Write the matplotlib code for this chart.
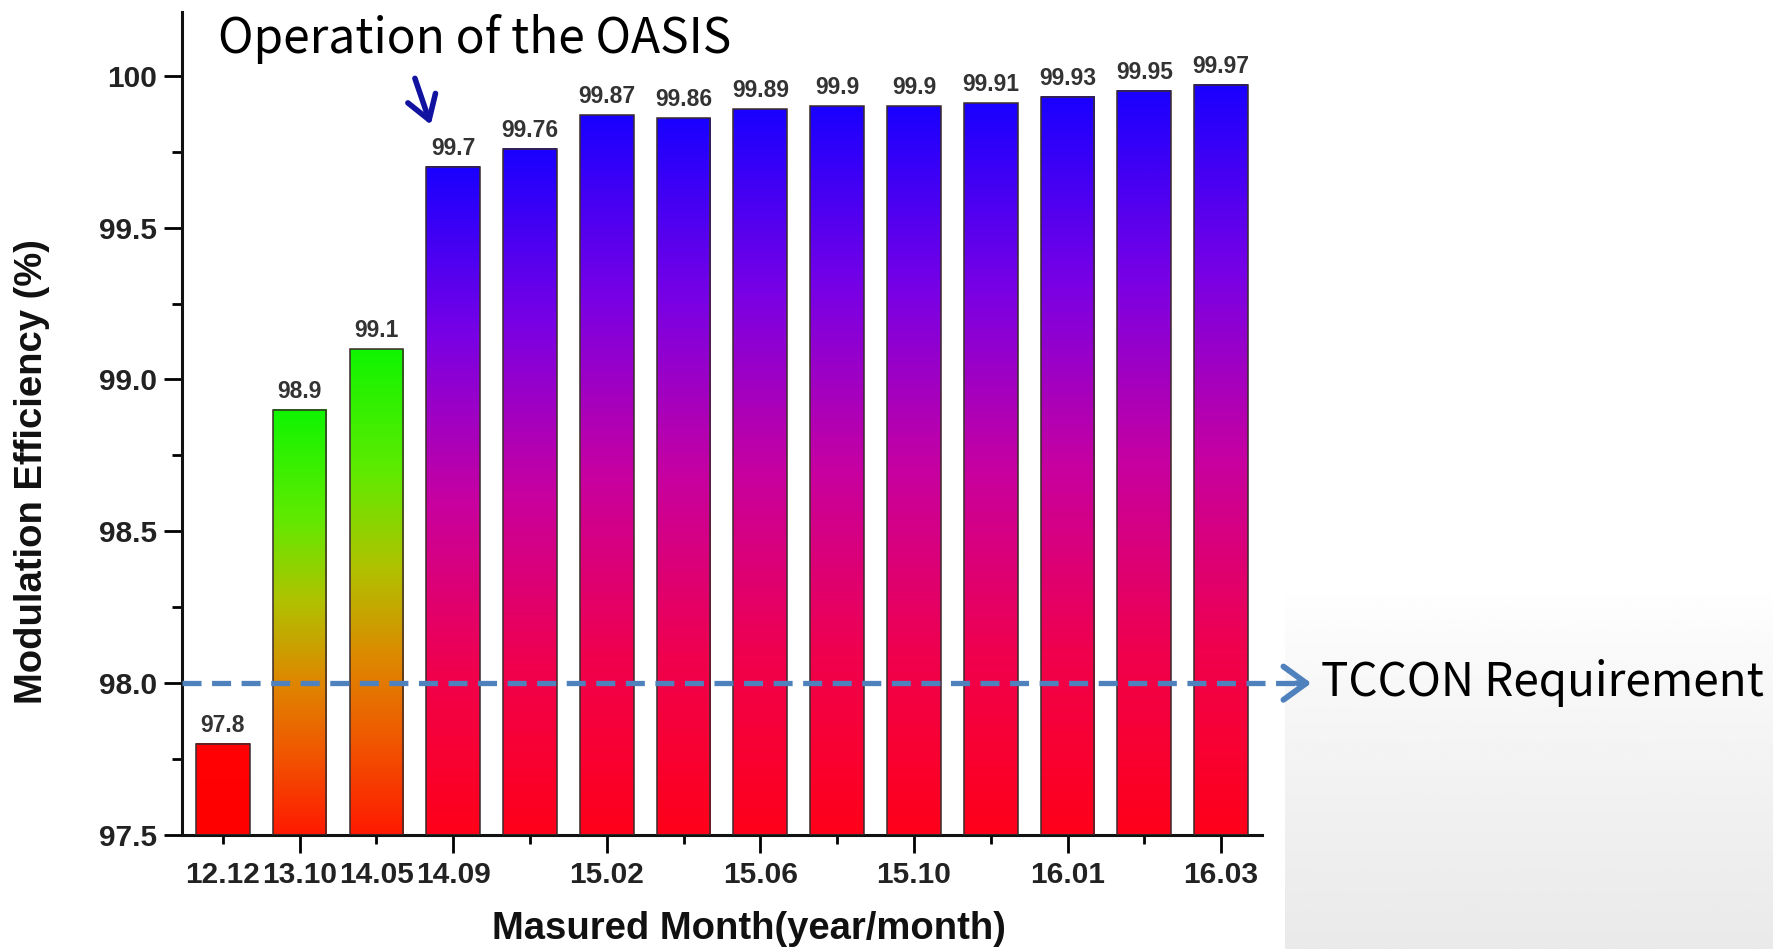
import numpy as np
import matplotlib
matplotlib.use("Agg")
import matplotlib.pyplot as plt
from matplotlib.colors import LinearSegmentedColormap

# Monthly modulation efficiency measurements
month_labels = ['12.12', '13.10', '14.05', '14.09', '', '15.02', '', '15.06',
                '', '15.10', '', '16.01', '', '16.03']
efficiency = [97.8, 98.9, 99.1, 99.7, 99.76, 99.87, 99.86, 99.89,
              99.9, 99.9, 99.91, 99.93, 99.95, 99.97]
tccon_requirement = 98.0
oasis_start = 3  # index of first month after OASIS went into operation

y_min, y_max = 97.5, 100.21
bar_w = 0.70

red_green = LinearSegmentedColormap.from_list("rg", [
    (0.00, (1.00, 0.10, 0.00)),
    (0.20, (0.94, 0.35, 0.00)),
    (0.36, (0.87, 0.53, 0.00)),
    (0.55, (0.69, 0.76, 0.00)),
    (0.75, (0.37, 0.92, 0.00)),
    (1.00, (0.06, 0.96, 0.00)),
])
red_blue = LinearSegmentedColormap.from_list("rb", [
    (0.00, (1.00, 0.00, 0.10)),
    (0.25, (0.94, 0.00, 0.31)),
    (0.50, (0.78, 0.00, 0.63)),
    (0.75, (0.47, 0.00, 0.90)),
    (1.00, (0.10, 0.00, 1.00)),
])
solid_red = LinearSegmentedColormap.from_list("r", [(1.0, 0.0, 0.0), (1.0, 0.0, 0.02)])


def bar_cmap(i, v):
    if v < tccon_requirement:
        return solid_red
    if i < oasis_start:
        return red_green
    return red_blue


fig = plt.figure(figsize=(17.73, 9.49), dpi=100)
fig.patch.set_facecolor("white")

# light grey slide background on the right-hand side
bg = fig.add_axes([1285 / 1773, 0, 1 - 1285 / 1773, 1], zorder=0)
rows = np.linspace(0, 1, 400)
shade = np.where(rows < 0.62, 1.0, 1.0 - 0.085 * ((rows - 0.62) / 0.38) ** 0.8)
bg.imshow(np.repeat(shade[:, None], 2, axis=1), cmap="gray", vmin=0, vmax=1,
          aspect="auto", extent=(0, 1, 0, 1), origin="upper")
bg.axis("off")

ax = fig.add_axes([0.1027, 0.1201, 0.6090, 0.8673], zorder=1)
ax.patch.set_alpha(0)

x = np.arange(len(efficiency))
for i, (xi, v) in enumerate(zip(x, efficiency)):
    grad = bar_cmap(i, v)(np.linspace(0, 1, 256))[:, None, :3]
    ax.imshow(grad, extent=(xi - bar_w / 2, xi + bar_w / 2, y_min, v),
              origin="lower", aspect="auto", interpolation="bilinear", zorder=2)
ax.bar(x, np.array(efficiency) - y_min, bottom=y_min, width=bar_w,
       facecolor="none", edgecolor="#3a2a2a", linewidth=1.1, zorder=3)

for xi, v in zip(x, efficiency):
    ax.annotate(f"{v:g}", (xi, v), xytext=(0, 5), textcoords="offset points",
                ha="center", va="bottom", fontsize=16.5, fontweight="bold",
                color="#333333", family="Liberation Sans")

ax.set_xlim(-0.53, 13.53)
ax.set_ylim(y_min, y_max)

# labelled months on odd positions get the long ticks
major = [i for i in x if i % 2 == 1]
minor = [i for i in x if i % 2 == 0]
ax.set_xticks(major)
ax.set_xticklabels([month_labels[i] for i in major])
ax.set_xticks(minor, minor=True)
ax.set_xticklabels([month_labels[i] for i in minor], minor=True)

yt = [97.5, 98.0, 98.5, 99.0, 99.5, 100.0]
ax.set_yticks(yt)
ax.set_yticklabels(["97.5", "98.0", "98.5", "99.0", "99.5", "100"])
ax.set_yticks(np.arange(97.75, 100.1, 0.5), minor=True)

for lab in ax.get_xticklabels(which="both") + ax.get_yticklabels():
    lab.set_fontfamily("Liberation Sans")
    lab.set_fontweight("bold")
    lab.set_fontsize(21.5)
    lab.set_color("#222222")

ax.tick_params(axis="x", which="major", length=13, width=2, pad=5.5, direction="out")
ax.tick_params(axis="x", which="minor", length=6.5, width=2, pad=12, direction="out")
ax.tick_params(axis="y", which="major", length=13, width=2, pad=5, direction="out")
ax.tick_params(axis="y", which="minor", length=7, width=2, direction="out")

for side in ("top", "right"):
    ax.spines[side].set_visible(False)
for side in ("left", "bottom"):
    ax.spines[side].set_linewidth(2.2)
    ax.spines[side].set_color("#111111")

ax.set_xlabel("Masured Month(year/month)", fontsize=27.5, fontweight="bold",
              family="Liberation Sans", va="center", color="#111111")
ax.xaxis.set_label_coords(0.525, -0.114)
ax.set_ylabel("Modulation Efficiency (%)", fontsize=27.5, fontweight="bold",
              family="Liberation Sans", va="center", color="#111111")
ax.yaxis.set_label_coords(-0.139, 0.441)

# TCCON requirement line with arrow
ax.plot([-0.53, 14.05], [tccon_requirement] * 2, color="#4F81BD", lw=3.8,
        dashes=(3.6, 2.0), clip_on=False, zorder=4, solid_capstyle="butt")
ax.annotate("", xy=(14.21, tccon_requirement), xytext=(13.95, tccon_requirement),
            arrowprops=dict(arrowstyle="->,head_length=0.55,head_width=0.4",
                            color="#4F81BD", lw=4.2, mutation_scale=30),
            annotation_clip=False, zorder=4)
ax.text(14.30, tccon_requirement, "TCCON Requirement", fontsize=33,
        family="Noto Sans CJK KR", va="center", ha="left", color="black",
        clip_on=False)

# OASIS annotation
ax.text(-0.06, 100.12, "Operation of the OASIS", fontsize=34.5,
        family="Noto Sans CJK KR", va="center", ha="left", color="black",
        clip_on=False)
ax.annotate("", xy=(oasis_start - 0.28, 99.83), xytext=(oasis_start - 0.51, 100.0),
            arrowprops=dict(arrowstyle="->,head_length=0.55,head_width=0.35",
                            color="#1212A0", lw=4, mutation_scale=30),
            annotation_clip=False, zorder=5)

fig.savefig("out.png", dpi=100)
